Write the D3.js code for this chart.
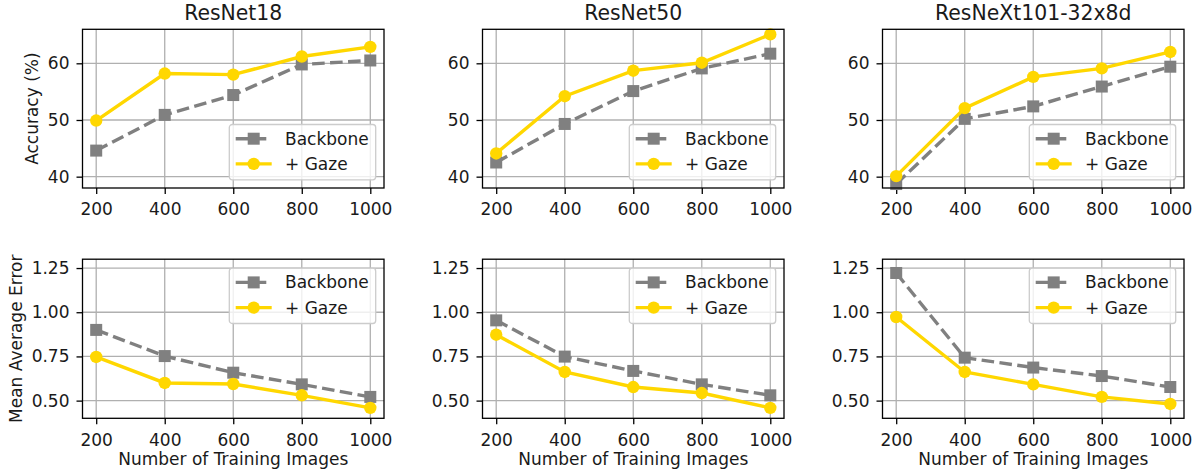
<!DOCTYPE html>
<html>
<head>
<meta charset="utf-8">
<script src="https://cdn.jsdelivr.net/npm/d3@7"></script>
<style>
  body { margin: 0; background: #fff; }
  svg { display: block; font-family: "DejaVu Sans", sans-serif; }
</style>
</head>
<body>
<div id="chart"></div>
<script>
// training-set sizes on the x axis
const sizes = [200, 400, 600, 800, 1000];
const models = ["ResNet18", "ResNet50", "ResNeXt101-32x8d"];

// accuracy (%), one row per model
const accBackbone = [
    [44.6, 50.9, 54.4, 59.8, 60.5],
    [42.5, 49.3, 55.1, 59.1, 61.7],
    [38.7, 50.2, 52.4, 55.9, 59.4]
];
const accGaze = [
    [49.9, 58.2, 58.0, 61.2, 62.9],
    [44.1, 54.2, 58.7, 60.1, 65.1],
    [40.1, 52.1, 57.6, 59.1, 62.0]
];

// mean average error, one row per model
const maeBackbone = [
    [0.900, 0.752, 0.658, 0.592, 0.521],
    [0.954, 0.749, 0.668, 0.592, 0.530],
    [1.222, 0.743, 0.687, 0.639, 0.577]
];
const maeGaze = [
    [0.747, 0.600, 0.594, 0.530, 0.459],
    [0.873, 0.662, 0.577, 0.543, 0.459],
    [0.973, 0.662, 0.592, 0.521, 0.481]
];

const accTicks = [40, 50, 60];
const maeTicks = [0.50, 0.75, 1.00, 1.25];
const legendNames = ["Backbone", "+ Gaze"];

const W = 1202, H = 474;
const fs = 17;
const grey = "#808080", gold = "#ffd700";

const svg = d3.select("#chart").append("svg")
    .attr("width", W)
    .attr("height", H);

const rows = [
    {top: 29.3, bottom: 188, domain: [38, 66], ticks: accTicks, fmt: d3.format("d"),
     back: accBackbone, gaze: accGaze, legend: "lower", ylabel: "Accuracy (%)", ylabelX: 37.5},
    {top: 259.2, bottom: 418.3, domain: [0.4, 1.3], ticks: maeTicks, fmt: d3.format(".2f"),
     back: maeBackbone, gaze: maeGaze, legend: "upper", ylabel: "Mean Average Error", ylabelX: 22}
];

const axW = 301.5;

rows.forEach(function (row, r) {
    for (let c = 0; c < 3; c++) {
        const left = 82.5 + c * 400;
        const x = d3.scaleLinear().domain([160, 1040]).range([left, left + axW]);
        const y = d3.scaleLinear().domain(row.domain).range([row.bottom, row.top]);
        const g = svg.append("g");

        // grid
        g.selectAll(".gx").data(sizes).enter().append("line")
            .attr("x1", d => x(d)).attr("x2", d => x(d))
            .attr("y1", row.top).attr("y2", row.bottom)
            .attr("stroke", "#b0b0b0").attr("stroke-width", 1.3);
        g.selectAll(".gy").data(row.ticks).enter().append("line")
            .attr("x1", left).attr("x2", left + axW)
            .attr("y1", d => y(d)).attr("y2", d => y(d))
            .attr("stroke", "#b0b0b0").attr("stroke-width", 1.3);

        // axes
        const xAxis = g.append("g")
            .attr("transform", "translate(0," + row.bottom + ")")
            .call(d3.axisBottom(x).tickValues(sizes).tickSize(6).tickPadding(6).tickFormat(d3.format("d")));
        const yAxis = g.append("g")
            .attr("transform", "translate(" + left + ",0)")
            .call(d3.axisLeft(y).tickValues(row.ticks).tickSize(6).tickPadding(7).tickFormat(row.fmt));
        [xAxis, yAxis].forEach(function (a) {
            a.select(".domain").remove();
            a.selectAll(".tick line").attr("stroke", "#000").attr("stroke-width", 1.3);
            a.selectAll(".tick text").attr("font-size", fs).attr("fill", "#1a1a1a")
                .attr("font-family", "DejaVu Sans");
        });
        xAxis.selectAll(".tick text").attr("dy", "0.9em");

        // series
        const line = d3.line().x((d, i) => x(sizes[i])).y(d => y(d));
        const back = row.back[c], gaze = row.gaze[c];
        g.append("path").datum(back)
            .attr("d", line).attr("fill", "none")
            .attr("stroke", grey).attr("stroke-width", 3.4)
            .attr("stroke-dasharray", "12.6,5.4");
        g.selectAll(".sq").data(back).enter().append("rect")
            .attr("x", (d, i) => x(sizes[i]) - 6)
            .attr("y", d => y(d) - 6)
            .attr("width", 12).attr("height", 12)
            .attr("fill", grey);
        g.append("path").datum(gaze)
            .attr("d", line).attr("fill", "none")
            .attr("stroke", gold).attr("stroke-width", 3.4);
        g.selectAll(".ci").data(gaze).enter().append("circle")
            .attr("cx", (d, i) => x(sizes[i]))
            .attr("cy", d => y(d))
            .attr("r", 6.2)
            .attr("fill", gold);

        // frame
        g.append("rect")
            .attr("x", left).attr("y", row.top)
            .attr("width", axW).attr("height", row.bottom - row.top)
            .attr("fill", "none").attr("stroke", "#000").attr("stroke-width", 1.3);

        // legend
        const lw = 146.4, lh = 55.3;
        const lx = left + axW - 8.3 - lw;
        const ly = row.legend === "lower" ? row.bottom - 8.2 - lh : row.top + 9;
        const leg = g.append("g").attr("transform", "translate(" + lx + "," + ly + ")");
        leg.append("rect")
            .attr("width", lw).attr("height", lh).attr("rx", 3)
            .attr("fill", "#fff").attr("fill-opacity", 0.8)
            .attr("stroke", "#cccccc").attr("stroke-width", 1.3);
        legendNames.forEach(function (name, k) {
            const cy = 14.2 + k * 25.2;
            const item = leg.append("g").attr("transform", "translate(0," + cy + ")");
            item.append("line")
                .attr("x1", 6.4).attr("x2", 42.4).attr("y1", 0).attr("y2", 0)
                .attr("stroke", k === 0 ? grey : gold).attr("stroke-width", 3.4)
                .attr("stroke-dasharray", k === 0 ? "12.6,5.4" : null);
            if (k === 0) {
                item.append("rect").attr("x", 24.4 - 6).attr("y", -6)
                    .attr("width", 12).attr("height", 12).attr("fill", grey);
            } else {
                item.append("circle").attr("cx", 24.4).attr("cy", 0).attr("r", 6.2).attr("fill", gold);
            }
            item.append("text")
                .attr("x", 55.7).attr("y", 0).attr("dy", "0.35em")
                .attr("font-size", fs).attr("fill", "#1a1a1a")
                .text(name);
        });

        // titles and labels
        if (r === 0) {
            g.append("text")
                .attr("x", left + axW / 2).attr("y", 20)
                .attr("text-anchor", "middle").attr("font-size", 20.4).attr("fill", "#1a1a1a")
                .text(models[c]);
        } else {
            g.append("text")
                .attr("x", left + axW / 2).attr("y", 465)
                .attr("text-anchor", "middle").attr("font-size", fs).attr("fill", "#1a1a1a")
                .text("Number of Training Images");
        }
        if (c === 0) {
            const cy = (row.top + row.bottom) / 2;
            g.append("text")
                .attr("transform", "translate(" + row.ylabelX + "," + cy + ") rotate(-90)")
                .attr("text-anchor", "middle").attr("font-size", fs).attr("fill", "#1a1a1a")
                .text(row.ylabel);
        }
    }
});
</script>
</body>
</html>
